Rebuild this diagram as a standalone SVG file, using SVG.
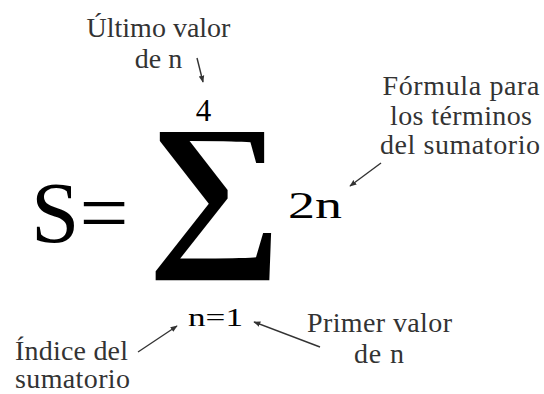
<svg xmlns="http://www.w3.org/2000/svg" width="544" height="394" viewBox="0 0 544 394" font-family="Liberation Serif, serif">
<style>
text{font-family:'Liberation Serif',serif}
.lbl{font-size:28px;fill:#333;text-anchor:middle}
.f{fill:#000}
.c{stroke:#333;stroke-width:1.4;fill:none;marker-end:url(#ah)}
</style>
<defs>
<marker id="ah" viewBox="0 0 10 10" refX="9" refY="5" markerWidth="7" markerHeight="7" markerUnits="userSpaceOnUse" orient="auto">
<path d="M0,1 L10,5 L0,9 Z" fill="#333"/>
</marker>
</defs>
<rect width="544" height="394" fill="#fff"/>
<g id="formula">
<text class="f" x="31" y="242" font-size="87">S=</text>
<text class="f" font-size="190" font-weight="bold" transform="matrix(1,0,0,0.9,-3,1.5)" x="150" y="270">∑</text>
<text class="f" x="288" y="218" font-size="38" textLength="54" lengthAdjust="spacingAndGlyphs">2n</text>
</g>
<g id="upper">
<text class="f" x="203.5" y="121" font-size="31" text-anchor="middle" fill="#222">4</text>
</g>
<g id="lower">
<text class="f" x="188" y="326" font-size="26" textLength="55" lengthAdjust="spacingAndGlyphs" fill="#222">n=1</text>
</g>
<g id="label-ultimo">
<text class="lbl" x="158.5" y="37">Último valor</text>
<text class="lbl" x="158.5" y="68">de n</text>
</g>
<g id="label-formula">
<text class="lbl" x="461" y="95" textLength="157">Fórmula para</text>
<text class="lbl" x="461" y="125" textLength="142">los términos</text>
<text class="lbl" x="460" y="154" textLength="160">del sumatorio</text>
</g>
<g id="label-indice">
<text class="lbl" x="71.5" y="360" textLength="113">Índice del</text>
<text class="lbl" x="72.5" y="388" textLength="115">sumatorio</text>
</g>
<g id="label-primer">
<text class="lbl" x="379.5" y="332" textLength="145">Primer valor</text>
<text class="lbl" x="379" y="363" textLength="50">de n</text>
</g>
<g id="connectors">
<line class="c" x1="197" y1="58" x2="203" y2="82"/>
<line class="c" x1="381" y1="163" x2="350" y2="186"/>
<line class="c" x1="138" y1="352" x2="177" y2="326"/>
<line class="c" x1="320" y1="347" x2="254" y2="322"/>
</g>
</svg>
